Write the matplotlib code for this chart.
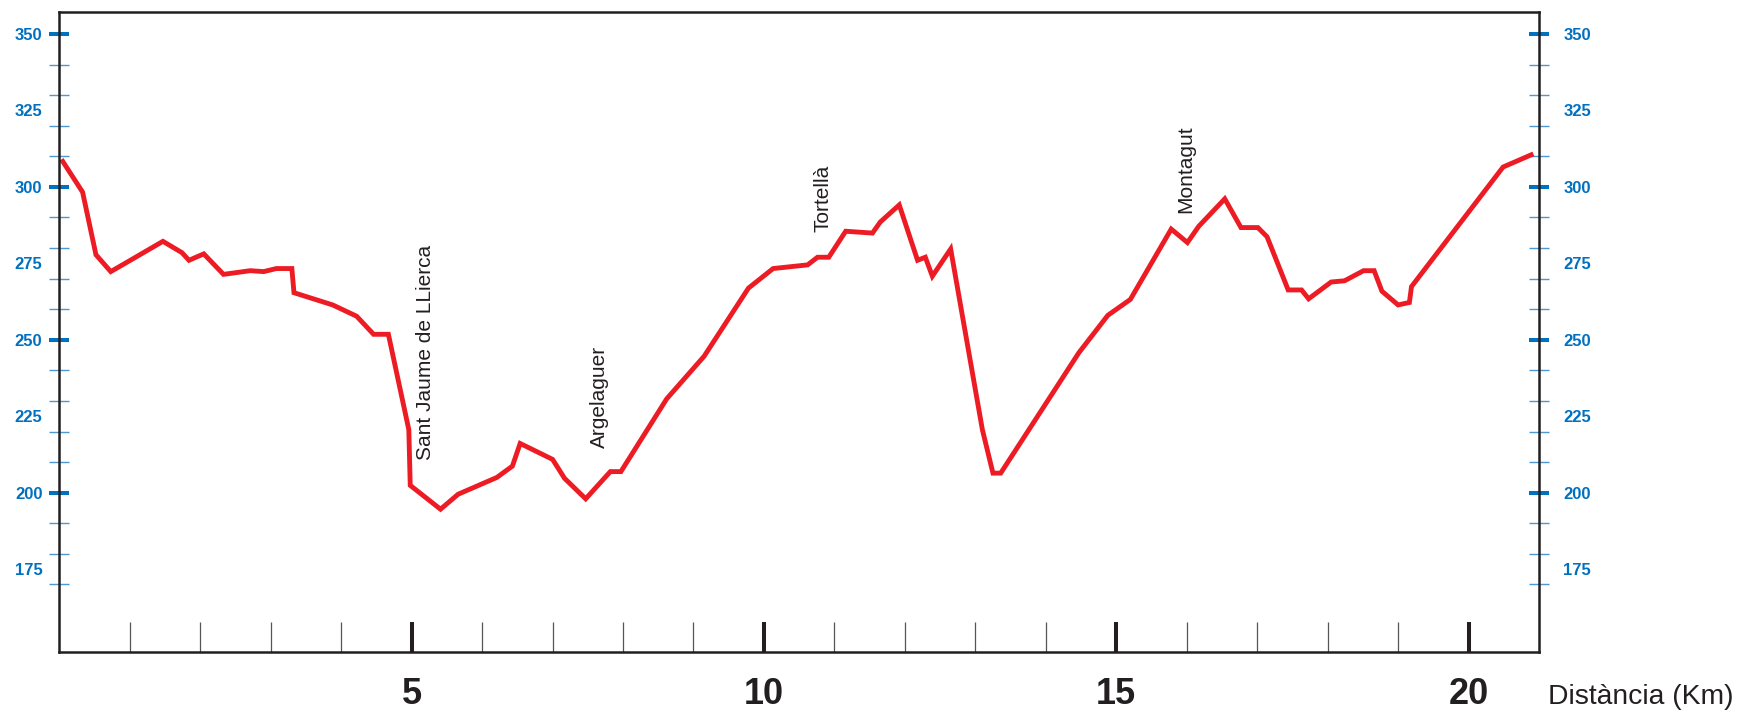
import matplotlib
matplotlib.use("Agg")
import matplotlib.pyplot as plt
from matplotlib.ticker import FixedLocator, NullFormatter

# ---- data ----
km = [0.03, 0.33, 0.52, 0.73, 1.03, 1.47, 1.74, 1.84, 2.05, 2.33, 2.71, 2.90, 3.08, 3.30, 3.33,
      3.88, 4.22, 4.46, 4.67, 4.96, 4.98, 5.41, 5.66, 6.21, 6.43, 6.54, 7.00, 7.17, 7.47, 7.82,
      7.97, 8.62, 9.15, 9.78, 10.13, 10.62, 10.76, 10.92, 11.16, 11.54, 11.65, 11.92, 12.18,
      12.29, 12.39, 12.65, 13.10, 13.25, 13.36, 14.47, 14.88, 15.20, 15.78, 16.01, 16.17, 16.54,
      16.77, 17.01, 17.14, 17.44, 17.63, 17.73, 18.05, 18.24, 18.51, 18.66, 18.77, 19.00, 19.16,
      19.19, 20.49, 20.92]
elev = [309.0, 298.3, 277.8, 272.3, 276.3, 282.2, 278.5, 276.0, 278.1, 271.4, 272.6, 272.3, 273.3,
        273.3, 265.4, 261.4, 257.7, 251.8, 251.8, 220.6, 202.4, 194.6, 199.5, 205.0, 208.7, 216.1,
        210.9, 204.7, 198.0, 206.9, 206.9, 230.7, 244.6, 266.9, 273.3, 274.5, 277.0, 277.0, 285.5,
        284.9, 288.5, 294.1, 276.0, 277.0, 270.8, 279.7, 220.6, 206.4, 206.4, 245.8, 258.0, 263.2,
        286.2, 281.8, 287.1, 296.1, 286.7, 286.7, 283.7, 266.3, 266.3, 263.4, 268.9, 269.3, 272.6,
        272.6, 265.9, 261.4, 262.2, 267.4, 306.5, 310.8]

place_names = ["Sant Jaume de LLierca", "Argelaguer", "Tortellà", "Montagut"]
place_km = [5.20, 7.67, 10.84, 15.99]
place_elev = [210.7, 214.5, 285.4, 291.6]

x_major = [5, 10, 15, 20]
x_minor = [k for k in range(1, 21) if k % 5 != 0]
y_labels = [175, 200, 225, 250, 275, 300, 325, 350]
y_major = [200, 250, 300, 350]
y_minor = [v for v in range(170, 350, 10) if v % 50 != 0]

# ---- style ----
DARK = "#231F20"
RED = "#ED1C24"
BLUE = "#0070C0"
LBLUE = "#4F97D0"
FONT = "Liberation Sans"

fig = plt.figure(figsize=(17.4, 7.12), dpi=100)
ax = fig.add_axes([0.0341, 0.0838, 0.8504, 0.8998])

ax.plot(km, elev, color=RED, lw=3.5, solid_joinstyle="miter", solid_capstyle="butt", zorder=3)

ax.set_xlim(0, 21)
ax.set_ylim(147.8, 357.3)

for s in ax.spines.values():
    s.set_color(DARK)
    s.set_linewidth(1.8)
    s.set_zorder(4)

# x axis
ax.xaxis.set_major_locator(FixedLocator(x_major))
ax.xaxis.set_minor_locator(FixedLocator(x_minor))
ax.set_xticklabels([str(v) for v in x_major])
ax.tick_params(axis="x", which="major", direction="in", length=21.6, width=2.9,
               color=DARK, pad=17.5, labelsize=26, labelcolor=DARK)
ax.tick_params(axis="x", which="minor", direction="in", length=21.6, width=0.9, color="#555555")
for lab in ax.get_xticklabels():
    lab.set_fontfamily(FONT)
    lab.set_fontweight("bold")

# y axis: labels (left) with no tick marks, thin minor ticks on both sides
ax.yaxis.set_major_locator(FixedLocator(y_labels))
ax.yaxis.set_minor_locator(FixedLocator(y_minor))
ax.set_yticklabels([str(v) for v in y_labels])
ax.tick_params(axis="y", which="major", length=0, pad=12.2, labelsize=12, labelcolor=BLUE,
               left=True, right=False)
ax.tick_params(axis="y", which="minor", direction="inout", length=14.9, width=1.0,
               color=LBLUE, left=True, right=True)
for lab in ax.get_yticklabels():
    lab.set_fontfamily(FONT)
    lab.set_fontweight("bold")

# thick ticks every 50 m, both sides
for side in ("left", "right"):
    sec = ax.secondary_yaxis(side)
    sec.set_yticks(y_major)
    sec.yaxis.set_major_formatter(NullFormatter())
    sec.tick_params(axis="y", which="major", direction="inout", length=14.9, width=2.9, color=BLUE)
    sec.tick_params(axis="y", which="minor", length=0)
    for s in sec.spines.values():
        s.set_visible(False)

# right labels
secr = ax.secondary_yaxis("right")
secr.set_yticks(y_labels)
secr.set_yticklabels([str(v) for v in y_labels])
secr.tick_params(axis="y", which="major", length=0, pad=17.5, labelsize=12, labelcolor=BLUE)
secr.tick_params(axis="y", which="minor", length=0)
for lab in secr.get_yticklabels():
    lab.set_fontfamily(FONT)
    lab.set_fontweight("bold")
for s in secr.spines.values():
    s.set_visible(False)

# place names
for name, xk, ye in zip(place_names, place_km, place_elev):
    ax.text(xk, ye, name, rotation=90, ha="center", va="bottom", fontsize=15,
            fontfamily=FONT, color=DARK, zorder=5)

fig.text(1548 / 1740, 1 - 704 / 712, "Distància (Km)", ha="left", va="baseline",
         fontsize=20.3, fontfamily=FONT, color=DARK)

fig.savefig("out.png", dpi=100)
